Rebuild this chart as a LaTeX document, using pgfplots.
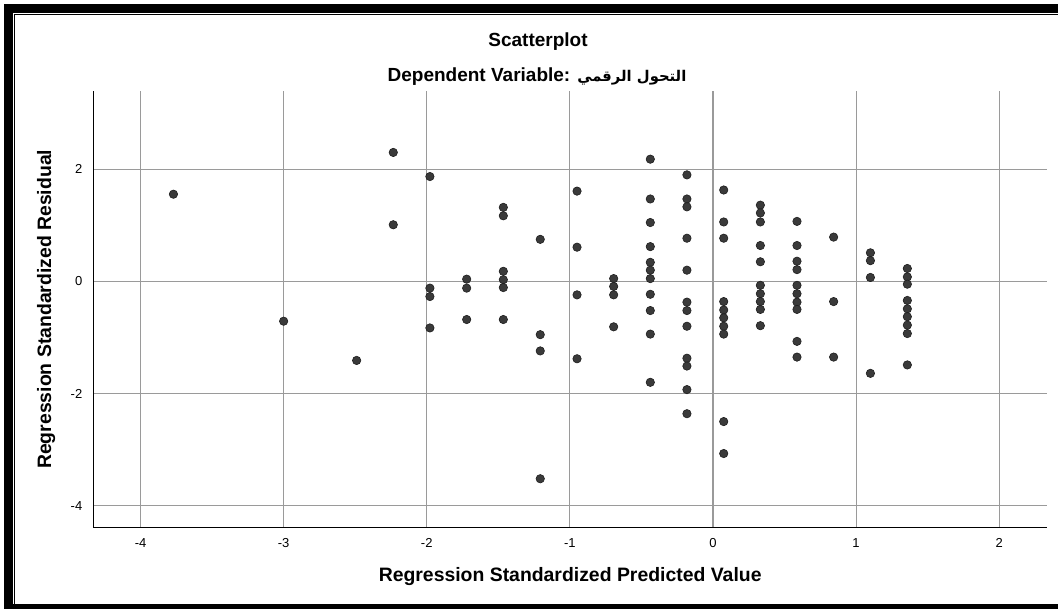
\documentclass[border=0pt]{standalone}
\usepackage{pgfplots}
\pgfplotsset{compat=1.18}
\usepackage{fontspec}
\setmainfont{Liberation Sans}
\newfontfamily\arabicfont[Script=Arabic]{DejaVu Sans}
\TeXXeTstate=1
\definecolor{dotfill}{HTML}{3A3A3A}
\definecolor{dotedge}{HTML}{1E1E1E}
\definecolor{gridgray}{HTML}{9A9A9A}
\begin{document}
\begin{tikzpicture}[x=0.5pt,y=0.5pt]
\useasboundingbox (0,0) rectangle (1058,609);
\fill[white] (0,0) rectangle (1058,609);
\fill[black] (4,0) rectangle (13,605);
\fill[black] (4,596) rectangle (1058,605);
\fill[black] (4,0) rectangle (1058,5);
\draw[line width=0.6pt] (14.7,5) -- (14.7,594.3) -- (1058,594.3);
\begin{axis}[
  at={(46.65pt,40.65pt)}, anchor=south west,
  scale only axis, width=476.85pt, height=218.35pt,
  xmin=-4.33, xmax=2.334, ymin=-4.393, ymax=3.396,
  axis x line*=bottom, axis y line*=left,
  axis line style={black, line width=0.6pt, -},
  grid=major, major grid style={gridgray, line width=0.6pt},
  xtick={-4,-3,-2,-1,0,1,2}, xticklabels={-4,-3,-2,-1,0,1,2},
  ytick={-4,-2,0,2}, yticklabels={-4,-2,0,2},
  tick style={draw=none},
  ticklabel style={font=\fontsize{6.5}{7}\selectfont},
  xticklabel shift=2pt, yticklabel shift=2pt,
  xlabel={Regression Standardized Predicted Value},
  ylabel={Regression Standardized Residual},
  label style={font=\bfseries\fontsize{9.7}{11}\selectfont},
  xlabel style={at={(axis description cs:0.5,0)}, anchor=center, yshift=-24.6pt},
  ylabel style={at={(axis description cs:0,0.5)}, anchor=center, rotate=0, yshift=23.6pt},
  clip=false,
]
\addplot[only marks, mark=*, mark size=2.1pt, mark options={fill=dotfill, draw=dotedge, line width=0.3pt}] coordinates {
(-3.77,1.555) (-3.00,-0.71) (-2.49,-1.41) (-2.234,2.30) (-2.234,1.01)
(-1.978,1.87) (-1.978,-0.12) (-1.978,-0.27) (-1.978,-0.83)
(-1.721,0.04) (-1.721,-0.12) (-1.721,-0.68)
(-1.465,1.32) (-1.465,1.17) (-1.465,0.18) (-1.465,0.03) (-1.465,-0.11) (-1.465,-0.68)
(-1.207,0.75) (-1.207,-0.95) (-1.207,-1.24) (-1.207,-3.52)
(-0.950,1.61) (-0.950,0.61) (-0.950,-0.24) (-0.950,-1.38)
(-0.694,0.05) (-0.694,-0.09) (-0.694,-0.24) (-0.694,-0.81)
(-0.438,2.18) (-0.438,1.47) (-0.438,1.05) (-0.438,0.62) (-0.438,0.34) (-0.438,0.20) (-0.438,0.05) (-0.438,-0.23) (-0.438,-0.52) (-0.438,-0.94) (-0.438,-1.80)
(-0.182,1.90) (-0.182,1.47) (-0.182,1.33) (-0.182,0.77) (-0.182,0.20) (-0.182,-0.37) (-0.182,-0.52) (-0.182,-0.80) (-0.182,-1.37) (-0.182,-1.51) (-0.182,-1.93) (-0.182,-2.36)
(0.075,1.63) (0.075,1.06) (0.075,0.77) (0.075,-0.36) (0.075,-0.51) (0.075,-0.65) (0.075,-0.80) (0.075,-0.94) (0.075,-2.50) (0.075,-3.07)
(0.331,1.36) (0.331,1.22) (0.331,1.06) (0.331,0.64) (0.331,0.35) (0.331,-0.07) (0.331,-0.22) (0.331,-0.36) (0.331,-0.50) (0.331,-0.79)
(0.587,1.07) (0.587,0.64) (0.587,0.36) (0.587,0.21) (0.587,-0.07) (0.587,-0.22) (0.587,-0.37) (0.587,-0.50) (0.587,-1.07) (0.587,-1.35)
(0.843,0.79) (0.843,-0.36) (0.843,-1.35)
(1.100,0.51) (1.100,0.37) (1.100,0.07) (1.100,-1.64)
(1.358,0.23) (1.358,0.08) (1.358,-0.05) (1.358,-0.34) (1.358,-0.49) (1.358,-0.63) (1.358,-0.78) (1.358,-0.93) (1.358,-1.49)
};
\end{axis}
\node[font=\bfseries\fontsize{9.5}{11}\selectfont] at (538,567) {Scatterplot};
\node[font=\fontsize{9.5}{11}\selectfont] at (537,532) {\textbf{Dependent Variable:} {\arabicfont\bfseries\fontsize{7.4}{9}\selectfont\beginR التحول الرقمي\endR}};
\end{tikzpicture}
\end{document}
